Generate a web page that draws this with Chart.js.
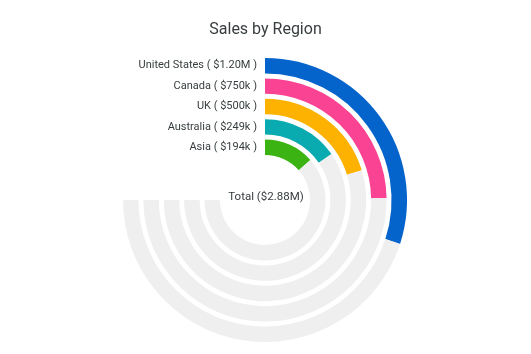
<!DOCTYPE html>
<html>
<head>
<meta charset="utf-8">
<script src="https://cdn.jsdelivr.net/npm/chart.js@4/dist/chart.umd.min.js"></script>
<style>
  html, body { margin: 0; padding: 0; background: #fff; }
  #wrap { width: 531px; height: 354px; }
</style>
</head>
<body>
<div id="wrap"><canvas id="chart" width="531" height="354"></canvas></div>
<script>
// data
const regions = ['United States', 'Canada', 'UK', 'Australia', 'Asia'];
const amounts = ['$1.20M', '$750k', '$500k', '$249k', '$194k'];
const percents = [40, 33, 27, 20.5, 18];
const totalLabel = 'Total ($2.88M)';

const COLORS = ['#0563cc', '#fb4394', '#fdb100', '#0aabb0', '#3bb312'];
const TRACK = '#efefef';
const TEXT = '#373d3f';
const FONT = "Roboto, 'Noto Sans', sans-serif";

// one ring per region, with a transparent spacer ring in between
const datasets = [];
regions.forEach((r, i) => {
    if (i > 0) {
        datasets.push({
            data: [100],
            backgroundColor: ['rgba(0,0,0,0)'],
            weight: 4.9,
            spacer: true
        });
    }
    datasets.push({
        label: r,
        data: [percents[i], 100 - percents[i]],
        backgroundColor: [COLORS[i], TRACK],
        weight: 15.5,
        ringIndex: i
    });
});

const labelPlugin = {
    id: 'radialLabels',
    afterDraw(chart) {
        const ctx = chart.ctx;
        ctx.save();
        // title
        ctx.fillStyle = TEXT;
        ctx.font = '16px ' + FONT;
        ctx.textAlign = 'center';
        ctx.textBaseline = 'middle';
        ctx.fillText('Sales by Region', chart.width / 2, 30);

        ctx.font = '11px ' + FONT;
        ctx.textAlign = 'right';
        let cx = 0, cy = 0;
        chart.data.datasets.forEach((ds, di) => {
            if (ds.spacer) return;
            const arc = chart.getDatasetMeta(di).data[0];
            cx = arc.x; cy = arc.y;
            const mid = (arc.outerRadius + arc.innerRadius) / 2;
            const i = ds.ringIndex;
            ctx.fillText(regions[i] + ' ( ' + amounts[i] + ' )', arc.x - 8, arc.y - mid);
        });

        ctx.font = '11.5px ' + FONT;
        ctx.textAlign = 'center';
        ctx.fillText(totalLabel, cx + 1, cy - 3);
        ctx.restore();
    }
};

new Chart(document.getElementById('chart'), {
    type: 'doughnut',
    data: { labels: ['value', 'rest'], datasets: datasets },
    options: {
        responsive: false,
        animation: false,
        rotation: 0,
        circumference: 270,
        cutout: '31.7%',
        layout: { padding: { top: 58, bottom: 12, left: 123, right: 124 } },
        elements: { arc: { borderWidth: 0, hoverOffset: 0 } },
        plugins: {
            legend: { display: false },
            tooltip: { enabled: false }
        }
    },
    plugins: [labelPlugin]
});
</script>
</body>
</html>
